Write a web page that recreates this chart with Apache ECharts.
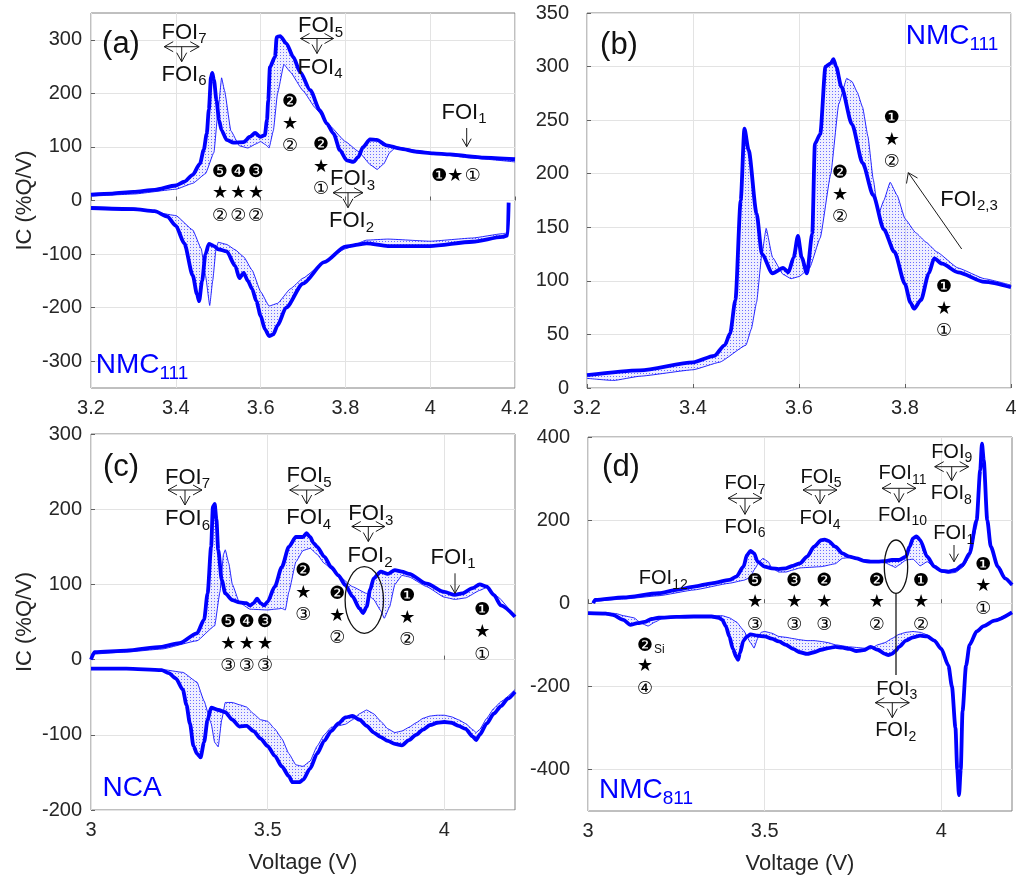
<!DOCTYPE html>
<html>
<head>
<meta charset="utf-8">
<script src="https://cdn.jsdelivr.net/npm/echarts@6/dist/echarts.min.js"></script>
<style>
html,body{margin:0;padding:0;background:#fff;}
#c{width:1016px;height:881px;}
</style>
</head>
<body>
<div id="c"></div>
<script>
// ---------------- DATA (voltage V, IC %Q/V) ----------------
// Panel (a) NMC111 full cycle
const a_chg_main = [[3.2,11],[3.25,13],[3.3,16],[3.35,20],[3.4,28],[3.42,35],[3.44,48],[3.457,69],[3.466,95],[3.473,125],[3.478,170],[3.483,230],[3.486,238],[3.49,225],[3.496,187],[3.502,150],[3.508,131],[3.52,113],[3.536,108],[3.56,109],[3.575,119],[3.587,126],[3.599,119],[3.61,122],[3.615,150],[3.618,187],[3.622,249],[3.634,268],[3.638,305],[3.646,307],[3.661,293],[3.677,268],[3.693,240],[3.717,206],[3.74,168],[3.756,144],[3.772,125],[3.787,94],[3.803,75],[3.819,72],[3.83,81],[3.842,100],[3.858,114],[3.874,113],[3.897,103],[3.929,97],[3.968,91],[4.007,88],[4.047,86],[4.086,83],[4.125,80],[4.2,77]];
const a_chg_last = [[3.2,8],[3.3,12],[3.4,21],[3.44,32],[3.47,50],[3.49,90],[3.5,170],[3.508,229],[3.515,205],[3.53,130],[3.55,102],[3.57,98],[3.59,106],[3.6,110],[3.612,104],[3.62,98],[3.63,130],[3.64,200],[3.655,254],[3.67,240],[3.7,205],[3.73,172],[3.76,142],[3.8,110],[3.83,92],[3.86,66],[3.875,58],[3.89,68],[3.905,90],[3.92,100],[3.95,96],[4.0,88],[4.1,79],[4.2,72]];
const a_dis_main = [[3.2,-14],[3.3,-16],[3.35,-20],[3.38,-30],[3.4,-47],[3.42,-80],[3.44,-140],[3.45,-175],[3.455,-188],[3.462,-150],[3.47,-100],[3.478,-81],[3.49,-85],[3.5,-91],[3.52,-95],[3.54,-122],[3.55,-145],[3.56,-135],[3.57,-150],[3.58,-165],[3.59,-188],[3.6,-215],[3.61,-240],[3.62,-253],[3.63,-250],[3.64,-233],[3.66,-200],[3.7,-155],[3.75,-115],[3.8,-86],[3.85,-80],[3.9,-85],[4.0,-85],[4.1,-77],[4.17,-68],[4.183,-65],[4.185,-4]];
const a_dis_last = [[3.2,-12],[3.3,-14],[3.4,-28],[3.44,-55],[3.46,-90],[3.47,-140],[3.48,-196],[3.487,-150],[3.495,-90],[3.5,-78],[3.52,-82],[3.54,-92],[3.56,-105],[3.58,-130],[3.6,-170],[3.62,-197],[3.64,-192],[3.67,-165],[3.7,-145],[3.75,-115],[3.8,-90],[3.85,-74],[3.9,-72],[4.0,-76],[4.1,-70],[4.17,-62],[4.185,-60]];
// Panel (b) NMC111 charge zoom
const b_chg_main = [[3.2,12],[3.3,16.5],[3.4,24],[3.44,30],[3.46,40],[3.47,51],[3.48,82],[3.49,175],[3.497,242],[3.505,222],[3.52,163],[3.53,125],[3.55,107],[3.57,112],[3.58,108],[3.59,122],[3.598,142],[3.605,122],[3.615,107],[3.625,144],[3.63,228],[3.64,237],[3.65,300],[3.66,303],[3.665,307],[3.67,300],[3.68,281],[3.7,246],[3.72,210],[3.74,180],[3.76,148],[3.78,127],[3.8,97],[3.81,80],[3.817,74],[3.83,82],[3.845,107],[3.855,121],[3.87,116],[3.9,108],[3.95,99],[4.0,94]];
const b_chg_last = [[3.2,9],[3.25,7],[3.3,11],[3.4,17],[3.45,24],[3.5,40],[3.51,55],[3.52,80],[3.53,125],[3.538,149],[3.55,122],[3.57,106],[3.585,102],[3.6,104],[3.62,112],[3.64,140],[3.66,200],[3.675,265],[3.69,289],[3.7,286],[3.71,276],[3.72,262],[3.73,235],[3.74,195],[3.75,162],[3.76,175],[3.772,192],[3.785,180],[3.8,158],[3.82,145],[3.84,136],[3.86,127],[3.9,112],[3.95,102],[4.0,96]];
// Panel (c) NCA
const c_chg_main = [[3.0,0],[3.01,10],[3.1,12],[3.2,17],[3.25,22],[3.3,35],[3.32,53],[3.33,88],[3.34,150],[3.345,203],[3.35,207],[3.355,186],[3.36,146],[3.37,106],[3.38,88],[3.4,79],[3.42,76],[3.44,75],[3.45,72],[3.46,75],[3.47,81],[3.48,75],[3.49,72],[3.5,77],[3.52,97],[3.54,123],[3.56,150],[3.58,163],[3.6,163],[3.61,168],[3.62,163],[3.63,155],[3.64,150],[3.66,137],[3.68,123],[3.7,112],[3.72,99],[3.74,84],[3.76,68],[3.77,62],[3.78,70],[3.79,93],[3.8,108],[3.82,117],[3.84,114],[3.86,119],[3.88,117],[3.9,114],[3.95,101],[4.0,90],[4.03,86],[4.05,88],[4.08,95],[4.1,100],[4.12,97],[4.14,86],[4.16,72],[4.2,57]];
const c_chg_last = [[3.0,7],[3.1,10],[3.2,14],[3.3,25],[3.35,45],[3.365,90],[3.375,140],[3.38,146],[3.39,128],[3.4,100],[3.42,76],[3.45,67],[3.5,66],[3.52,67],[3.54,68],[3.55,66],[3.56,90],[3.58,130],[3.6,145],[3.62,148],[3.64,140],[3.66,128],[3.7,112],[3.74,97],[3.78,88],[3.8,80],[3.82,65],[3.83,55],[3.845,70],[3.86,100],[3.88,112],[3.9,110],[3.95,97],[4.0,83],[4.03,80],[4.06,82],[4.1,92],[4.12,96],[4.15,84],[4.2,57]];
const c_dis_main = [[3.0,-12],[3.1,-12],[3.2,-14],[3.22,-18],[3.24,-25],[3.26,-40],[3.27,-60],[3.28,-85],[3.29,-115],[3.3,-125],[3.31,-130],[3.32,-110],[3.33,-80],[3.34,-64],[3.36,-67],[3.38,-70],[3.4,-80],[3.42,-89],[3.44,-88],[3.46,-95],[3.48,-105],[3.5,-115],[3.52,-128],[3.54,-142],[3.56,-155],[3.57,-163],[3.59,-163],[3.6,-160],[3.62,-145],[3.64,-125],[3.66,-108],[3.68,-95],[3.7,-85],[3.72,-77],[3.74,-75],[3.76,-80],[3.78,-88],[3.8,-97],[3.82,-103],[3.84,-108],[3.86,-112],[3.88,-114],[3.9,-107],[3.92,-100],[3.94,-93],[3.96,-87],[3.98,-84],[4.0,-83],[4.02,-84],[4.04,-88],[4.06,-92],[4.08,-102],[4.09,-107],[4.1,-100],[4.12,-85],[4.14,-72],[4.16,-62],[4.18,-52],[4.2,-43]];
const c_dis_last = [[3.0,-12],[3.2,-13],[3.26,-17],[3.3,-30],[3.32,-55],[3.34,-85],[3.35,-110],[3.36,-116],[3.37,-80],[3.38,-57],[3.4,-57],[3.42,-60],[3.44,-63],[3.46,-72],[3.48,-80],[3.5,-82],[3.52,-92],[3.54,-105],[3.56,-125],[3.58,-140],[3.6,-142],[3.62,-135],[3.64,-115],[3.66,-100],[3.68,-90],[3.7,-88],[3.72,-86],[3.74,-80],[3.76,-72],[3.78,-67],[3.8,-72],[3.82,-82],[3.84,-92],[3.86,-97],[3.88,-95],[3.9,-90],[3.92,-84],[3.94,-78],[3.96,-75],[3.98,-74],[4.0,-74],[4.02,-76],[4.04,-80],[4.06,-85],[4.08,-93],[4.09,-97],[4.1,-93],[4.12,-78],[4.14,-65],[4.16,-56],[4.2,-40]];
// Panel (d) NMC811
const d_chg_main = [[3.015,0],[3.02,8],[3.1,14],[3.2,24],[3.25,32],[3.3,40],[3.35,48],[3.4,56],[3.42,64],[3.44,88],[3.45,116],[3.46,126],[3.47,120],[3.48,100],[3.5,88],[3.52,84],[3.54,82],[3.56,84],[3.58,90],[3.6,96],[3.62,112],[3.64,136],[3.66,152],[3.67,153],[3.68,150],[3.7,136],[3.72,120],[3.74,112],[3.76,108],[3.78,102],[3.8,100],[3.82,100],[3.84,101],[3.86,104],[3.88,104],[3.9,112],[3.91,136],[3.92,156],[3.93,161],[3.94,152],[3.96,112],[3.98,88],[4.0,78],[4.02,76],[4.04,80],[4.06,92],[4.08,120],[4.1,200],[4.11,320],[4.115,384],[4.12,344],[4.13,200],[4.14,136],[4.16,88],[4.18,60],[4.2,44]];
const d_chg_last = [[3.015,0],[3.02,5],[3.1,10],[3.2,18],[3.3,32],[3.4,48],[3.44,55],[3.46,62],[3.47,80],[3.485,100],[3.495,108],[3.51,100],[3.52,85],[3.54,75],[3.56,75],[3.58,80],[3.6,85],[3.62,86],[3.66,88],[3.7,95],[3.72,108],[3.74,110],[3.8,102],[3.84,98],[3.86,90],[3.87,86],[3.88,92],[3.9,104],[3.92,106],[3.94,90],[3.96,100],[3.98,86],[4.0,75],[4.02,72],[4.04,74],[4.06,86],[4.08,112],[4.1,185],[4.11,300],[4.115,370],[4.12,335],[4.13,195],[4.14,132],[4.16,85],[4.18,58],[4.2,42]];
const d_dis_main = [[3.0,-24],[3.05,-25],[3.07,-28],[3.1,-40],[3.12,-52],[3.14,-48],[3.16,-45],[3.18,-38],[3.2,-35],[3.25,-33],[3.3,-32],[3.35,-32],[3.37,-35],[3.38,-40],[3.39,-55],[3.4,-80],[3.41,-110],[3.42,-130],[3.425,-136],[3.43,-120],[3.44,-90],[3.45,-80],[3.46,-75],[3.48,-78],[3.5,-80],[3.52,-85],[3.54,-92],[3.56,-100],[3.58,-110],[3.6,-118],[3.62,-122],[3.64,-118],[3.66,-112],[3.68,-108],[3.7,-105],[3.72,-107],[3.74,-110],[3.76,-115],[3.78,-113],[3.8,-105],[3.82,-112],[3.84,-122],[3.85,-125],[3.86,-122],[3.87,-115],[3.88,-105],[3.9,-90],[3.92,-82],[3.94,-78],[3.96,-80],[3.98,-90],[4.0,-110],[4.02,-150],[4.03,-200],[4.04,-300],[4.045,-400],[4.05,-462],[4.055,-400],[4.06,-260],[4.07,-150],[4.08,-100],[4.1,-68],[4.12,-55],[4.15,-42],[4.2,-22]];
const d_dis_last = [[3.0,-22],[3.05,-22],[3.08,-25],[3.1,-30],[3.13,-35],[3.15,-48],[3.17,-55],[3.19,-45],[3.22,-32],[3.3,-30],[3.38,-30],[3.4,-35],[3.42,-45],[3.44,-65],[3.46,-95],[3.47,-108],[3.48,-85],[3.49,-70],[3.5,-68],[3.52,-72],[3.54,-80],[3.56,-82],[3.58,-85],[3.6,-88],[3.62,-90],[3.64,-90],[3.66,-92],[3.68,-95],[3.7,-100],[3.74,-105],[3.78,-108],[3.8,-110],[3.82,-100],[3.84,-95],[3.86,-85],[3.88,-75],[3.9,-70],[3.92,-68],[3.94,-70],[3.96,-76],[3.98,-88],[4.0,-106],[4.02,-145],[4.03,-195],[4.04,-290],[4.045,-390],[4.05,-450],[4.055,-390],[4.06,-250],[4.07,-145],[4.08,-97],[4.1,-66],[4.12,-53],[4.15,-40],[4.2,-21]];

// tick labels
const a_yticks = [-300,-200,-100,0,100,200,300];
const d_yticks = [-400,-200,0,200,400];
const cd_xticks = [3, 3.5, 4];
const panelNames = ['(a)','(b)','(c)','(d)'];
const yTitle = 'IC (%Q/V)';
const xTitle = 'Voltage (V)';

// ---------------- STYLE ----------------
const FONT = "'Liberation Sans', Arial, sans-serif";
const SYM = "'DejaVu Sans', sans-serif";
const BLUE = '#0000ff';
const TXT = '#262626';

const pc = document.createElement('canvas');
pc.width = 3; pc.height = 3;
const pctx = pc.getContext('2d');
pctx.fillStyle = 'rgba(90,90,255,0.10)';
pctx.fillRect(0,0,3,3);
pctx.fillStyle = 'rgba(0,0,255,0.55)';
pctx.fillRect(1,1,1,1);
const PATTERN = {image: pc, repeat: 'repeat'};

const grids = [
  {left:91, top:13, width:424, height:375},
  {left:587, top:13, width:424, height:375},
  {left:91, top:434, width:424, height:376},
  {left:588, top:437, width:424, height:374}
].map(g => Object.assign({show:true, borderColor:'#808080', borderWidth:1, backgroundColor:'transparent', containLabel:false, outerBoundsMode:'none'}, g));

function xAxis(i, min, max, interval, named, custom) {
  const ax = {
    type:'value', gridIndex:i, min, max, interval,
    axisLine:{show:false},
    axisTick:{show:true, inside:true, length:4, lineStyle:{color:'#606060'}},
    axisLabel:{fontSize:20, color:TXT, fontFamily:FONT, margin:10},
    splitLine:{show:true, lineStyle:{color:'#e3e3e3', width:1}},
    name: named ? xTitle : '', nameLocation:'middle', nameGap:42,
    nameTextStyle:{fontSize:22, color:TXT, fontFamily:FONT}
  };
  if (custom) { ax.axisLabel.customValues = custom; ax.axisTick.customValues = custom; }
  return ax;
}
function yAxis(i, min, max, interval, margin, named, custom) {
  const ax = {
    type:'value', gridIndex:i, min, max, interval,
    axisLine:{show:false},
    axisTick:{show:true, inside:true, length:4, lineStyle:{color:'#606060'}},
    axisLabel:{fontSize:20, color:TXT, fontFamily:FONT, margin},
    splitLine:{show:true, lineStyle:{color:'#e3e3e3', width:1}},
    name: named ? yTitle : '', nameLocation:'middle', nameGap:55,
    nameTextStyle:{fontSize:22, color:TXT, fontFamily:FONT}
  };
  if (custom) { ax.axisLabel.customValues = custom; ax.axisTick.customValues = custom; }
  return ax;
}

function band(i, upper, lower) {
  return {
    type:'custom', xAxisIndex:i, yAxisIndex:i, coordinateSystem:'cartesian2d',
    silent:true, clip:true, z:1,
    data:[upper[0]],
    renderItem: function(params, api) {
      const pts = [];
      upper.forEach(p => pts.push(api.coord(p)));
      for (let k = lower.length - 1; k >= 0; k--) pts.push(api.coord(lower[k]));
      return {type:'polygon', shape:{points:pts}, style:{fill:PATTERN, stroke:null}};
    }
  };
}
function line(i, data, thick) {
  return {
    type:'line', xAxisIndex:i, yAxisIndex:i, data, showSymbol:false, symbol:'none',
    smooth: thick ? 0.25 : 0.12, smoothMonotone:'x', silent:true, z: thick ? 4 : 3, clip:true,
    lineStyle: thick ? {color:BLUE, width:3.8} : {color:'rgba(0,0,255,0.85)', width:1}
  };
}

const series = [
  band(0, a_chg_main, a_chg_last), line(0, a_chg_last, false), line(0, a_chg_main, true),
  band(0, a_dis_main, a_dis_last), line(0, a_dis_last, false), line(0, a_dis_main, true),
  band(1, b_chg_main, b_chg_last), line(1, b_chg_last, false), line(1, b_chg_main, true),
  band(2, c_chg_main, c_chg_last), line(2, c_chg_last, false), line(2, c_chg_main, true),
  band(2, c_dis_main, c_dis_last), line(2, c_dis_last, false), line(2, c_dis_main, true),
  band(3, d_chg_main, d_chg_last), line(3, d_chg_last, false), line(3, d_chg_main, true),
  band(3, d_dis_main, d_dis_last), line(3, d_dis_last, false), line(3, d_dis_main, true)
];

// ---------------- ANNOTATIONS ----------------
const G = [];
const mctx = document.createElement('canvas').getContext('2d');
function tw(s, size, fam) { mctx.font = size + 'px ' + fam; return mctx.measureText(s).width; }
function txt(s, x, y, size, color, fam, align) {
  G.push({type:'text', z:100, silent:true, style:{
    text:s, x, y, fill:color, font: size + 'px ' + fam,
    textAlign: align || 'center', textVerticalAlign:'middle',
    align: align || 'center', verticalAlign:'middle'
  }});
}
function subLabel(main, sub, x, y, size, subSize, color, fam) {
  fam = fam || FONT;
  const w1 = tw(main, size, fam), w2 = tw(sub, subSize, FONT);
  const left = x - (w1 + w2) / 2;
  txt(main, left, y, size, color, fam, 'left');
  txt(sub, left + w1, y + size * 0.3, subSize, color, FONT, 'left');
}
function pl(points, w) {
  G.push({type:'polyline', z:100, silent:true, shape:{points}, style:{stroke:'#1a1a1a', lineWidth:w || 1, fill:null}});
}
function tArrow(cx, cy, hw, len) {
  const h = 9, w = 5;
  pl([[cx-hw, cy],[cx+hw, cy]]);
  pl([[cx-hw+h, cy-w],[cx-hw, cy],[cx-hw+h, cy+w]]);
  pl([[cx+hw-h, cy-w],[cx+hw, cy],[cx+hw-h, cy+w]]);
  pl([[cx, cy],[cx, cy+len]]);
  pl([[cx-w, cy+len-h],[cx, cy+len],[cx+w, cy+len-h]]);
}
function downArrow(x, y0, y1) {
  pl([[x, y0],[x, y1]]);
  pl([[x-4.5, y1-8],[x, y1],[x+4.5, y1-8]]);
}
const GS = 18;
function stack(x, ys, glyphs) {
  glyphs.forEach((g, k) => txt(g, x, ys[k], GS, '#000', SYM));
}
function foi(sub, x, y, s) { subLabel('FOI', sub, x, y, s || 22, s ? 14 : 15, '#111'); }

// panel letters
txt(panelNames[0], 121, 44, 31, '#111', FONT);
txt(panelNames[1], 619, 45, 31, '#111', FONT);
txt(panelNames[2], 121, 467, 31, '#111', FONT);
txt(panelNames[3], 621, 467, 31, '#111', FONT);
// material labels
subLabel('NMC', '111', 142, 365, 28, 19, BLUE);
subLabel('NMC', '111', 952, 36, 28, 19, BLUE);
txt('NCA', 132, 788, 28, BLUE, FONT);
subLabel('NMC', '811', 646, 790, 28, 19, BLUE);

// (a)
foi('7', 184, 32.5); tArrow(181.7, 46.7, 17.5, 15); foi('6', 184, 74.5);
foi('5', 320.5, 26); tArrow(317, 38.5, 16.5, 15); foi('4', 320, 67.5);
foi('3', 352.5, 179); tArrow(348, 192.7, 15, 15); foi('2', 351.5, 221);
foi('1', 464, 112.5); downArrow(466.7, 128, 146.7);
stack(290, [102.7,124.3,146.7], ['❷','★','②']);
stack(321, [145.7,167.3,189.3], ['❷','★','①']);
stack(220, [172.3,193.3,216], ['❺','★','②']);
stack(238.3, [172.3,193.3,216], ['❹','★','②']);
stack(256, [172.3,193.3,216], ['❸','★','②']);
txt('❶', 439.3, 176, GS, '#000', SYM); txt('★', 455.3, 176, GS, '#000', SYM); txt('①', 472.7, 176, GS, '#000', SYM);

// (b)
stack(891.7, [118.3,140,162.7], ['❶','★','②']);
stack(840, [173.3,195,217.3], ['❷','★','②']);
stack(944, [287.3,309.3,331.7], ['❶','★','①']);
foi('2,3', 969, 199.5);
pl([[961.7,249],[908.3,172.7]]);
pl([[906.5,183.5],[908.3,172.7],[917.5,178]]);

// (c)
foi('7', 187.5, 477.5); tArrow(185, 490, 17, 15); foi('6', 187.5, 519);
foi('5', 309, 476); tArrow(306.7, 490, 17, 14); foi('4', 308.7, 518.3);
foi('3', 370.8, 514); tArrow(368.3, 526.5, 16.5, 15); foi('2', 370, 556);
foi('1', 453, 557.5); downArrow(455, 573.3, 593.3);
G.push({type:'ellipse', z:100, silent:true, shape:{cx:364.3, cy:600, rx:19.2, ry:33.3}, style:{stroke:'#111', lineWidth:1.3, fill:null}});
stack(303.3, [571.7,593.3,615.7], ['❷','★','③']);
stack(337.3, [594,616,638.3], ['❷','★','②']);
stack(407.3, [596,618,640], ['❶','★','②']);
stack(482.3, [610.7,632.7,655], ['❶','★','①']);
stack(228.3, [622.3,644.3,666.7], ['❺','★','③']);
stack(246.7, [622.3,644.3,666.7], ['❹','★','③']);
stack(265, [622.3,644.3,666.7], ['❸','★','③']);

// (d)
foi('7', 745, 483.7, 20); tArrow(745, 498.3, 17, 16); foi('6', 745, 527, 20);
foi('5', 821, 477, 20); tArrow(820, 490, 17, 14); foi('4', 820, 518.7, 20);
foi('11', 902.5, 473.7, 20); tArrow(899, 488.3, 17, 14); foi('10', 902.5, 515.3, 20);
foi('9', 951.7, 452, 20); tArrow(951.7, 466.7, 17, 14); foi('8', 951.3, 493.7, 20);
foi('1', 953.8, 533.7, 20); downArrow(954, 545, 561.7);
foi('12', 663.3, 578.7, 20);
foi('3', 896.7, 689.2, 20); tArrow(892.3, 702.7, 17, 15); foi('2', 895.7, 730.8, 20);
G.push({type:'ellipse', z:100, silent:true, shape:{cx:896, cy:566.7, rx:11.7, ry:26.7}, style:{stroke:'#111', lineWidth:1.3, fill:null}});
pl([[896,593.3],[896,675]], 1.3);
const dY = [581.3,602.7,625];
stack(755, dY, ['❺','★','③']);
stack(794.3, dY, ['❸','★','③']);
stack(824.3, dY, ['❷','★','③']);
stack(876.7, dY, ['❷','★','②']);
stack(921, dY, ['❶','★','②']);
stack(983.3, [565,586.7,609], ['❶','★','①']);
txt('❷', 645, 646, GS, '#000', SYM);
txt('Si', 654, 650, 12, '#111', FONT, 'left');
txt('★', 645, 666.7, GS, '#000', SYM);
txt('④', 645, 689.3, GS, '#000', SYM);

const option = {
  animation:false,
  backgroundColor:'#fff',
  grid: grids,
  xAxis: [
    xAxis(0, 3.2, 4.2, 0.2, false, null),
    xAxis(1, 3.2, 4.0, 0.2, false, null),
    xAxis(2, 3.0, 4.2, 0.5, true, cd_xticks),
    xAxis(3, 3.0, 4.2, 0.5, true, cd_xticks)
  ],
  yAxis: [
    yAxis(0, -350, 350, 50, 9, true, a_yticks),
    yAxis(1, 0, 350, 50, 18, false, null),
    yAxis(2, -200, 300, 100, 9, true, null),
    yAxis(3, -500, 400, 100, 18, false, d_yticks)
  ],
  series,
  graphic: G
};
const chart = echarts.init(document.getElementById('c'), null, {renderer:'canvas'});
chart.setOption(option);
</script>
</body>
</html>
